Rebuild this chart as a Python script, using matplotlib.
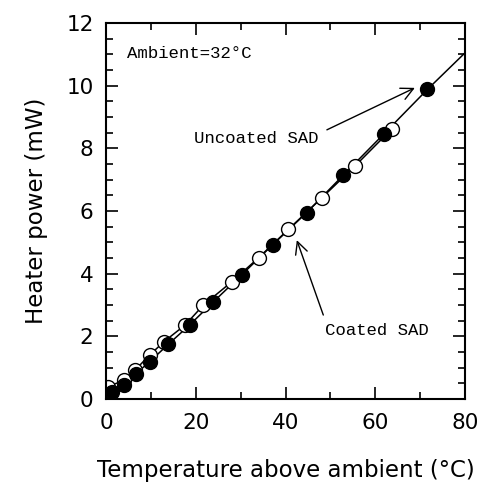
import numpy as np
import matplotlib.pyplot as plt
from matplotlib.ticker import MultipleLocator

# Uncoated SAD (filled circles)
unc_x = [1.3, 3.9, 6.6, 9.7, 13.9, 18.6, 23.9, 30.2, 37.1, 44.7, 52.9, 61.9, 71.6]
unc_y = [0.23, 0.45, 0.80, 1.19, 1.75, 2.36, 3.10, 3.96, 4.92, 5.95, 7.15, 8.46, 9.88]

# Coated SAD (open circles)
coa_x = [0.5, 3.9, 6.5, 9.7, 12.9, 17.6, 21.7, 28.0, 34.0, 40.6, 48.0, 55.5, 63.6]
coa_y = [0.39, 0.60, 0.93, 1.40, 1.83, 2.36, 3.00, 3.74, 4.51, 5.41, 6.41, 7.44, 8.61]

# end of the drawn curve beyond the last point
line_end_x = 80
line_end_y = 11.05

fig = plt.figure(figsize=(4.8, 4.87), dpi=100)
ax = fig.add_axes([0.221, 0.1807, 0.748, 0.7721])

ax.plot(unc_x + [line_end_x], unc_y + [line_end_y], color="k", lw=1.1, zorder=1)
ax.plot(coa_x, coa_y, color="k", lw=1.1, zorder=1)
ax.plot(coa_x, coa_y, "o", ms=10, mfc="white", mec="k", mew=1.0, zorder=2)
ax.plot(unc_x, unc_y, "o", ms=10, mfc="k", mec="k", mew=1.0, zorder=3)

mono = dict(family="Liberation Mono", fontsize=12.5)
arrow = dict(arrowstyle="->", color="k", lw=1.0, mutation_scale=22,
             shrinkA=0, shrinkB=0)

ax.text(4.7, 11.04, "Ambient=32°C", va="center", ha="left", **mono)

ax.text(33.5, 8.3, "Uncoated SAD", ha="center", va="center", **mono)
ax.annotate("", xy=(68.8, 9.93), xytext=(49.2, 8.59), arrowprops=arrow)

ax.text(60.4, 2.2, "Coated SAD", ha="center", va="center", **mono)
ax.annotate("", xy=(42.5, 5.07), xytext=(48.4, 2.68), arrowprops=arrow)

ax.set_xlim(0, 80)
ax.set_ylim(0, 12)
ax.xaxis.set_major_locator(MultipleLocator(20))
ax.xaxis.set_minor_locator(MultipleLocator(10))
ax.yaxis.set_major_locator(MultipleLocator(2))
ax.yaxis.set_minor_locator(MultipleLocator(0.5))
ax.tick_params(which="both", direction="in", top=True, right=True, width=1.2)
ax.tick_params(which="major", length=8.5, labelsize=15.5)
ax.tick_params(axis="x", which="major", pad=10)
ax.tick_params(axis="y", which="major", pad=9)
ax.tick_params(which="minor", length=5)
for spine in ax.spines.values():
    spine.set_linewidth(1.5)

ax.set_xlabel("Temperature above ambient (°C)", fontsize=16.5, labelpad=19)
ax.set_ylabel("Heater power (mW)", fontsize=16.5, labelpad=13)

fig.savefig("out.png", dpi=100)
